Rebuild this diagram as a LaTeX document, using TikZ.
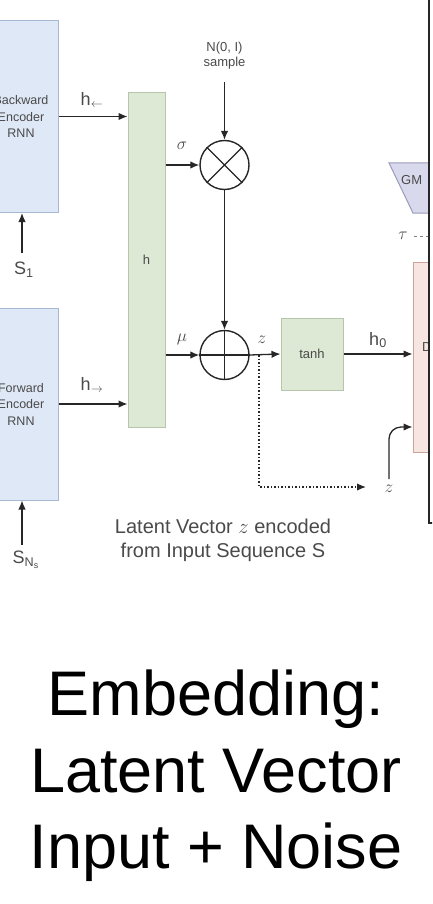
\documentclass[tikz,border=0pt]{standalone}
\usepackage{fontspec}
\setmainfont{Liberation Sans}
\usetikzlibrary{arrows.meta,positioning}

\definecolor{encfill}{HTML}{DFE8F6}
\definecolor{encline}{HTML}{A8B8D2}
\definecolor{grnfill}{HTML}{DDE8D5}
\definecolor{grnline}{HTML}{B5C6AA}
\definecolor{pnkfill}{HTML}{F6E5E0}
\definecolor{pnkline}{HTML}{C9A29A}
\definecolor{gmfill}{HTML}{D9D9EE}
\definecolor{gmline}{HTML}{9A9AB8}
\definecolor{txtgray}{HTML}{4A4A4A}
\definecolor{linecol}{HTML}{262626}

\begin{document}
\begin{tikzpicture}
[x=1pt,y=-1pt,
enc/.style ={rectangle, draw=encline, fill=encfill, line width=1pt,
minimum width=74pt, minimum height=192pt, align=center,
text=txtgray, font=\fontsize{12.5}{16.5}\selectfont},
gbox/.style ={rectangle, draw=grnline, fill=grnfill, line width=1pt,
text=txtgray, font=\fontsize{13}{15}\selectfont},
opcirc/.style ={circle, draw=linecol, line width=1.4pt,
minimum size=49pt, inner sep=0pt},
line/.style ={draw=linecol, line width=1.3pt,
-{Latex[length=9pt,width=7.5pt]}},
lbl/.style ={inner sep=0pt, text=txtgray,
font=\fontsize{13}{15}\selectfont},
biglbl/.style ={inner sep=0pt, text=txtgray,
font=\fontsize{18}{20}\selectfont},
title/.style ={inner sep=0pt, anchor=base,
font=\fontsize{63}{76}\selectfont}]
\useasboundingbox (0,0) rectangle (432,904);
\clip (0,0) rectangle (432,904);

% encoders and the h block
\node [enc] (benc) at (21,116.5) {Backward\\Encoder\\RNN};
\node [enc] (fenc) at (21,404) {Forward\\Encoder\\RNN};
\node [gbox, minimum width=37pt, minimum height=335pt] (hcat) at (146.5,260) {h};

% sampling: sigma times noise plus mu
\node [lbl, align=center] (noise) at (224.5,56) {N(0, I)\\sample};
\node [opcirc] (mult) at (224.5,165) {};
\node [opcirc] (add) at (224.5,355) {};
\draw [linecol, line width=1.4pt] (mult.north west) -- (mult.south east)
(mult.north east) -- (mult.south west);
\draw [linecol, line width=1.4pt] (add.north) -- (add.south)
(add.west) -- (add.east);
\node [gbox, minimum width=62pt, minimum height=72pt] (tanh) at (312,354) {tanh};

% labels
\node [biglbl] (s1) at (24,270) {S\textsubscript{1}};
\node [biglbl] (sns) at (26,560) {S\textsubscript{N\textsubscript{s}}};
\node [biglbl] (hbwd) at (92,100) {h\textsubscript{$\leftarrow$}};
\node [biglbl] (hfwd) at (92,385) {h\textsubscript{$\rightarrow$}};
\node [lbl, font=\fontsize{16}{18}\selectfont] (sig) at (182,146) {$\sigma$};
\node [lbl, font=\fontsize{16}{18}\selectfont] (mu) at (182,339) {$\mu$};
\node [lbl, font=\fontsize{16}{18}\selectfont] (zmid) at (262,340) {$z$};
\node [biglbl] (hzero) at (378,340) {h\textsubscript{0}};
\node [biglbl] (zin) at (389,489) {$z$};
\node [lbl, font=\fontsize{18}{20}\selectfont] (tau) at (403,236) {$\tau$};
\coordinate (zsplit) at (259,355);
\coordinate (zout) at (366,487);
\coordinate (s1tail) at (22,253);
\coordinate (snstail) at (22,545);
\coordinate (noisetail) at (224.5,82);

% decoder side, cut by the frame
\begin{scope}
\clip (0,0) rectangle (429,904);
\filldraw [fill=gmfill, draw=gmline, line width=1pt]
(389,163) -- (440,163) -- (440,213) -- (413,213) -- cycle;
\node [lbl, anchor=west] (gm) at (401,180) {GM};
\node [rectangle, draw=pnkline, fill=pnkfill, line width=1pt,
minimum width=30pt, minimum height=190pt] (dec) at (428,357) {};
\node [lbl, anchor=west] (dlbl) at (422,347) {D};
\end{scope}
\draw [linecol, line width=1.3pt] (429,0) -- (429,523) -- (440,523);

\begin{scope}[every path/.style=line]
\path (s1tail) -- (benc.south -| s1tail);
\path (snstail) -- (fenc.south -| snstail);
\path (benc.east) -- (benc.east -| hcat.west);
\path (fenc.east) -- (fenc.east -| hcat.west);
\path (mult.west -| hcat.east) -- (mult.west);
\path (add.west -| hcat.east) -- (add.west);
\path (noisetail) -- (mult.north);
\path (mult.south) -- (add.north);
\path (add.east) -- (tanh.west);
\path (tanh.east) -- (tanh.east -| dec.west);
\path [dash pattern=on 1.5pt off 2pt, line width=1.4pt] (zsplit) |- (zout);
\path [rounded corners=12pt] ([yshift=6pt]zin.north) |- ([yshift=-70pt]dec.west);
\path [-, dashed, draw=gray, line width=0.6pt] (tau.east) ++(6,0) -- (428,236);
\end{scope}

% caption and title
\node [inner sep=0pt, anchor=base, text=txtgray, font=\fontsize{20}{24}\selectfont]
(cap1) at (223,533) {Latent Vector $z$ encoded};
\node [inner sep=0pt, anchor=base, text=txtgray, font=\fontsize{20}{24}\selectfont]
(cap2) at (223,557) {from Input Sequence S};
\node [title] (title1) at (216,715) {Embedding:};
\node [title] (title2) at (216,792) {Latent Vector};
\node [title] (title3) at (216,868) {Input + Noise};
\end{tikzpicture}
\end{document}
